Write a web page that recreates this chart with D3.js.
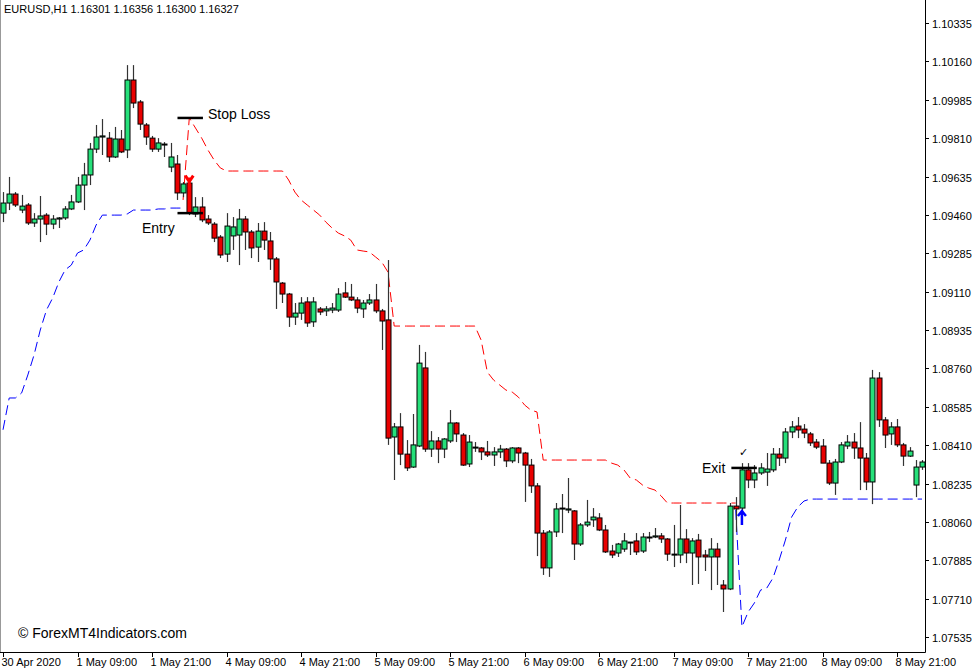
<!DOCTYPE html>
<html>
<head>
<meta charset="utf-8">
<script src="https://cdn.jsdelivr.net/npm/d3@7"></script>
<style>
  body { margin: 0; background: #fff; }
  svg text { font-family: "Liberation Sans", Arial, sans-serif; }
</style>
</head>
<body>
<svg id="chart" width="977" height="672"></svg>
<script>
// EURUSD H1 candles, one entry per bar
var opens = [1.09468,1.09514,1.09555,1.09482,1.09505,1.09423,1.09441,1.09459,1.09418,1.09441,
1.09446,1.09487,1.09519,1.09596,1.09642,1.09760,1.09815,1.09810,1.09724,1.09806,
1.09756,1.10075,1.09975,1.09870,1.09810,1.09760,1.09783,1.09678,1.09692,1.09560,
1.09605,1.09464,1.09496,1.09441,1.09418,1.09359,1.09281,1.09364,1.09368,1.09441,
1.09382,1.09313,1.09386,1.09341,1.09259,1.09149,1.09099,1.08994,1.09012,1.09063,
1.08972,1.09031,1.09022,1.09026,1.09026,1.09104,1.09085,1.09072,1.09031,1.09058,
1.09072,1.09022,1.08981,1.08447,1.08493,1.08369,1.08310,1.08406,1.08762,1.08392,
1.08429,1.08392,1.08429,1.08511,1.08456,1.08324,1.08401,1.08397,1.08379,1.08365,
1.08379,1.08392,1.08338,1.08397,1.08374,1.08319,1.08224,1.08009,1.07850,1.08014,
1.08119,1.08114,1.08110,1.07959,1.08046,1.08069,1.08078,1.08023,1.07927,1.07918,
1.07936,1.07968,1.07973,1.07927,1.07991,1.07991,1.07996,1.07982,1.07913,1.07909,
1.07982,1.07918,1.07977,1.07909,1.07900,1.07936,1.07772,1.07754,1.08132,1.08123,
1.08297,1.08251,1.08283,1.08287,1.08297,1.08369,1.08351,1.08470,1.08497,1.08483,
1.08461,1.08424,1.08406,1.08328,1.08237,1.08333,1.08406,1.08424,1.08397,1.08351,
1.08242,1.08716,1.08525,1.08461,1.08493,1.08411,1.08360,1.08228,1.08310];
var highs = [1.09564,1.09633,1.09564,1.09551,1.09514,1.09468,1.09546,1.09468,1.09459,1.09450,
1.09500,1.09551,1.09633,1.09697,1.09788,1.09870,1.09897,1.09838,1.09861,1.09847,
1.10143,1.10143,1.09984,1.09879,1.09820,1.09810,1.09792,1.09788,1.09733,1.09610,
1.09619,1.09541,1.09541,1.09459,1.09427,1.09368,1.09468,1.09450,1.09487,1.09455,
1.09391,1.09423,1.09427,1.09382,1.09268,1.09154,1.09104,1.09058,1.09085,1.09085,
1.09085,1.09040,1.09044,1.09058,1.09126,1.09154,1.09145,1.09085,1.09072,1.09099,
1.09145,1.09031,1.09254,1.08511,1.08556,1.08433,1.08552,1.08867,1.08835,1.08474,
1.08447,1.08442,1.08570,1.08515,1.08465,1.08456,1.08424,1.08401,1.08429,1.08401,
1.08411,1.08397,1.08401,1.08401,1.08379,1.08347,1.08237,1.08023,1.08023,1.08146,
1.08187,1.08260,1.08114,1.08055,1.08160,1.08123,1.08100,1.08046,1.07955,1.07964,
1.08009,1.07968,1.08009,1.08009,1.08014,1.08032,1.08009,1.07986,1.08046,1.08137,
1.08027,1.07986,1.08005,1.07932,1.07986,1.07964,1.07795,1.08146,1.08173,1.08328,
1.08328,1.08319,1.08328,1.08374,1.08397,1.08397,1.08488,1.08520,1.08538,1.08506,
1.08470,1.08438,1.08438,1.08342,1.08347,1.08424,1.08456,1.08465,1.08515,1.08374,
1.08753,1.08743,1.08538,1.08515,1.08529,1.08420,1.08401,1.08342,1.08342];
var lows = [1.09427,1.09482,1.09496,1.09468,1.09414,1.09405,1.09336,1.09368,1.09395,1.09400,
1.09437,1.09482,1.09514,1.09482,1.09596,1.09742,1.09733,1.09701,1.09719,1.09742,
1.09719,1.09947,1.09847,1.09779,1.09747,1.09747,1.09724,1.09655,1.09528,1.09541,
1.09459,1.09450,1.09427,1.09414,1.09336,1.09263,1.09245,1.09300,1.09231,1.09300,
1.09263,1.09245,1.09300,1.09209,1.09031,1.09058,1.08949,1.08958,1.08981,1.08949,
1.08949,1.09003,1.08999,1.09012,1.09017,1.09081,1.09067,1.09012,1.08990,1.09049,
1.09012,1.08844,1.08411,1.08251,1.08319,1.08292,1.08306,1.08401,1.08379,1.08356,
1.08328,1.08351,1.08420,1.08424,1.08315,1.08310,1.08379,1.08342,1.08356,1.08315,
1.08351,1.08310,1.08328,1.08328,1.08151,1.08192,1.07904,1.07818,1.07809,1.07991,
1.08009,1.08100,1.07886,1.07950,1.08037,1.08037,1.08018,1.07918,1.07895,1.07900,
1.07923,1.07909,1.07909,1.07918,1.07968,1.07986,1.07964,1.07882,1.07854,1.07872,
1.07872,1.07772,1.07777,1.07836,1.07749,1.07772,1.07649,1.07749,1.08014,1.08105,
1.08214,1.08214,1.08274,1.08224,1.08287,1.08315,1.08328,1.08442,1.08442,1.08442,
1.08406,1.08392,1.08328,1.08228,1.08183,1.08328,1.08392,1.08347,1.08205,1.08205,
1.08141,1.08493,1.08397,1.08411,1.08401,1.08315,1.08356,1.08173,1.08297];
var closes = [1.09514,1.09555,1.09505,1.09500,1.09423,1.09441,1.09455,1.09418,1.09441,1.09446,
1.09487,1.09519,1.09596,1.09642,1.09760,1.09815,1.09820,1.09724,1.09806,1.09747,
1.10075,1.09970,1.09874,1.09815,1.09760,1.09788,1.09783,1.09724,1.09560,1.09601,
1.09468,1.09496,1.09437,1.09423,1.09354,1.09277,1.09409,1.09405,1.09441,1.09382,
1.09309,1.09386,1.09345,1.09259,1.09154,1.09099,1.08994,1.09012,1.09058,1.08967,
1.09063,1.09017,1.09031,1.09035,1.09099,1.09085,1.09072,1.09035,1.09058,1.09072,
1.09022,1.08976,1.08442,1.08493,1.08369,1.08306,1.08411,1.08784,1.08392,1.08429,
1.08392,1.08438,1.08511,1.08461,1.08319,1.08424,1.08401,1.08379,1.08365,1.08379,
1.08392,1.08338,1.08397,1.08374,1.08319,1.08224,1.08009,1.07850,1.08014,1.08119,
1.08123,1.08119,1.07959,1.08046,1.08059,1.08082,1.08023,1.07923,1.07909,1.07959,
1.07973,1.07968,1.07923,1.07991,1.07991,1.07996,1.07982,1.07913,1.07913,1.07982,
1.07918,1.07973,1.07900,1.07900,1.07936,1.07900,1.07754,1.08132,1.08119,1.08297,
1.08251,1.08283,1.08306,1.08301,1.08369,1.08351,1.08470,1.08493,1.08479,1.08465,
1.08420,1.08401,1.08328,1.08237,1.08333,1.08411,1.08424,1.08397,1.08351,1.08242,
1.08716,1.08525,1.08456,1.08493,1.08411,1.08360,1.08383,1.08310,1.08333];

// trailing stop lines
var upperStop = [];
var lowerStop = [];
var upperVals = [1.09528,1.09902,1.09856,1.09810,1.09756,1.09710,1.09674,
  1.09660,1.09660,1.09660,1.09660,1.09660,1.09660,1.09660,1.09660,1.09660,1.09660,
  1.09619,1.09564,1.09528,1.09505,1.09482,1.09459,1.09427,1.09400,1.09377,1.09364,
  1.09345,1.09300,1.09295,1.09291,1.09268,1.09245,1.09199,
  1.08953,1.08953,1.08953,1.08953,1.08953,1.08953,1.08953,1.08953,1.08953,1.08953,
  1.08953,1.08953,1.08953,1.08953,
  1.08889,1.08743,1.08707,1.08684,1.08661,1.08652,1.08629,1.08593,1.08570,1.08561,
  1.08342,1.08342,1.08342,1.08342,1.08342,1.08342,1.08342,1.08342,1.08342,1.08342,1.08342,
  1.08328,1.08319,1.08297,1.08260,1.08251,1.08228,1.08214,1.08205,1.08178,
  1.08146,1.08146,1.08146,1.08146,1.08146,1.08146,1.08146,1.08146,1.08146,1.08146,1.08146,1.08146];
var upperStart = 29;
var lowerVals1 = [1.08480,1.08625,1.08625,1.08648,1.08730,1.08821,1.08935,1.09026,1.09081,1.09154,
  1.09209,1.09231,1.09286,1.09300,1.09345,1.09414,1.09459,1.09459,1.09459,1.09459,
  1.09464,1.09482,1.09482,1.09482,1.09482,1.09487,1.09487,1.09491,1.09491,1.09491];
var lowerVals2 = [1.08114,1.07581,1.07649,1.07690,1.07749,1.07758,1.07804,1.07886,1.07977,1.08082,
  1.08128,1.08155,1.08164,1.08164,1.08164,1.08164,1.08164,1.08164,1.08164,1.08164,
  1.08164,1.08164,1.08164,1.08164,1.08164,1.08164,1.08164,1.08164,1.08164,1.08164,1.08164];
var lowerStart2 = 118;

var priceTicks = [1.10335,1.10160,1.09985,1.09810,1.09635,1.09460,1.09285,1.09110,1.08935,
  1.08760,1.08585,1.08410,1.08235,1.08060,1.07885,1.07710,1.07535];
var timeLabels = ["30 Apr 2020","1 May 09:00","1 May 21:00","4 May 09:00","4 May 21:00",
  "5 May 09:00","5 May 21:00","6 May 09:00","6 May 21:00","7 May 09:00","7 May 21:00",
  "8 May 09:00","8 May 21:00"];

for (var i = 0; i < opens.length; i++) {
    upperStop.push(null);
    lowerStop.push(null);
}
upperVals.forEach((v, k) => { upperStop[upperStart + k] = v; });
lowerVals1.forEach((v, k) => { lowerStop[k] = v; });

var svg = d3.select("#chart");
var plotRight = 925, plotBottom = 652;

var x = d3.scaleLinear().domain([0, 148]).range([3, 922]);
var y = d3.scaleLinear().domain([1.07535, 1.10335]).range([637, 23]);

// frame
svg.append("line").attr("x1", 0.5).attr("x2", 0.5).attr("y1", 0).attr("y2", plotBottom)
    .attr("stroke", "#999");
svg.append("line").attr("x1", plotRight + 0.5).attr("x2", plotRight + 0.5).attr("y1", 0).attr("y2", plotBottom + 0.5)
    .attr("stroke", "#000");
svg.append("line").attr("x1", 0).attr("x2", plotRight + 0.5).attr("y1", plotBottom + 0.5).attr("y2", plotBottom + 0.5)
    .attr("stroke", "#000");

// price axis
var yAxis = svg.append("g");
priceTicks.forEach((p) => {
    var yy = Math.round(y(p)) + 0.5;
    yAxis.append("line").attr("x1", plotRight).attr("x2", plotRight + 4)
        .attr("y1", yy).attr("y2", yy).attr("stroke", "#000");
    yAxis.append("text").attr("x", 932).attr("y", yy + 4)
        .attr("font-size", 11).attr("fill", "#000").text(p.toFixed(5));
});

// time axis
var xAxis = svg.append("g");
timeLabels.forEach((t, k) => {
    var xx = Math.round(x(k * 12)) + 0.5;
    xAxis.append("line").attr("x1", xx).attr("x2", xx)
        .attr("y1", plotBottom).attr("y2", plotBottom + 5).attr("stroke", "#000");
    xAxis.append("text").attr("x", xx - 2).attr("y", 666)
        .attr("font-size", 11).attr("fill", "#000").text(t);
});

// stop lines
var line = d3.line()
    .defined(d => d.v != null)
    .x(d => x(d.i))
    .y(d => y(d.v));

svg.append("path")
    .datum(upperStop.map((v, i) => ({i: i, v: v})))
    .attr("d", line).attr("fill", "none").attr("stroke", "#ff0000")
    .attr("stroke-width", 1).attr("stroke-dasharray", "10,5");
svg.append("path")
    .datum(lowerStop.map((v, i) => ({i: i, v: v})))
    .attr("d", line).attr("fill", "none").attr("stroke", "#0000ff")
    .attr("stroke-width", 1).attr("stroke-dasharray", "10,5");
svg.append("path")
    .datum(lowerVals2.map((v, k) => ({i: lowerStart2 + k, v: v})))
    .attr("d", line).attr("fill", "none").attr("stroke", "#0000ff")
    .attr("stroke-width", 1).attr("stroke-dasharray", "10,5");

// candles
var candles = svg.append("g").selectAll("g").data(opens).enter().append("g");
candles.append("line")
    .attr("x1", (d, i) => Math.round(x(i)) + 0.5)
    .attr("x2", (d, i) => Math.round(x(i)) + 0.5)
    .attr("y1", (d, i) => y(highs[i]))
    .attr("y2", (d, i) => y(lows[i]))
    .attr("stroke", "#333").attr("stroke-width", 1.2);
candles.append("rect")
    .attr("x", (d, i) => Math.round(x(i)) - 2)
    .attr("y", (d, i) => y(Math.max(opens[i], closes[i])))
    .attr("width", 5)
    .attr("height", (d, i) => Math.max(1, Math.abs(y(opens[i]) - y(closes[i]))))
    .attr("fill", (d, i) => closes[i] >= opens[i] ? "#26e07a" : "#e80000")
    .attr("stroke", "#000").attr("stroke-width", 1);

// signal arrows
var upArrowBar = 119, downArrowBar = 30;
var ax = x(downArrowBar), ay = y(1.09630), ay2 = y(1.09468);
svg.append("path")
    .attr("d", `M${ax},${ay} L${ax},${ay2} M${ax - 4},${ay - 2} L${ax},${ay + 4} L${ax + 4},${ay - 2}`)
    .attr("stroke", "#ff0000").attr("stroke-width", 3).attr("fill", "none");
var bx = x(upArrowBar), by = y(1.08082);
svg.append("path")
    .attr("d", `M${bx},${by + 8} L${bx},${by - 6} M${bx - 4},${by - 1} L${bx},${by - 6} L${bx + 4},${by - 1}`)
    .attr("stroke", "#0000ff").attr("stroke-width", 2.5).attr("fill", "none");

// annotations
function marker(b0, b1, price) {
    svg.append("line").attr("x1", x(b0)).attr("x2", x(b1))
        .attr("y1", y(price)).attr("y2", y(price))
        .attr("stroke", "#000").attr("stroke-width", 2.5);
}
marker(28.1, 32.2, 1.09902);
marker(28.1, 32.2, 1.09468);
marker(117.3, 121.4, 1.08306);

svg.append("text").attr("x", 208).attr("y", 119).attr("font-size", 14).text("Stop Loss");
svg.append("text").attr("x", 142).attr("y", 233).attr("font-size", 14).text("Entry");
svg.append("text").attr("x", 702).attr("y", 473).attr("font-size", 14).text("Exit");
svg.append("text").attr("x", 739).attr("y", 456).attr("font-size", 11).text("✓");

// header + watermark
svg.append("text").attr("x", 4).attr("y", 13).attr("font-size", 11)
    .text("EURUSD,H1  1.16301 1.16356 1.16300 1.16327");
svg.append("text").attr("x", 18).attr("y", 638).attr("font-size", 14)
    .text("© ForexMT4Indicators.com");
</script>
</body>
</html>
